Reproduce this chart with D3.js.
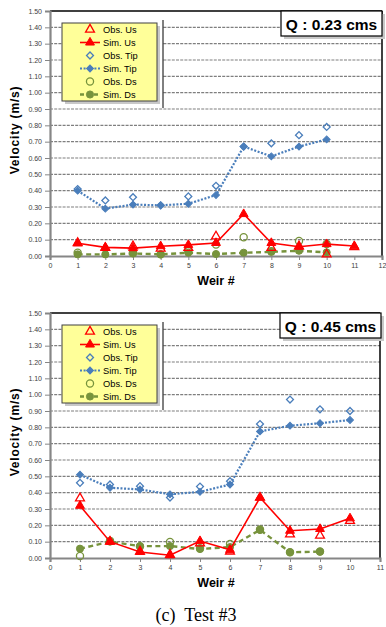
<!DOCTYPE html>
<html>
<head>
<meta charset="utf-8">
<script src="https://cdn.jsdelivr.net/npm/d3@7/dist/d3.min.js"></script>
<style>
  html, body { margin: 0; padding: 0; background: #fff; }
  svg { display: block; }
</style>
</head>
<body>
<svg id="fig" width="386" height="627"></svg>
<script>
// Weir velocity comparison, Test #3 — two discharges
const yTicks = [0.00,0.10,0.20,0.30,0.40,0.50,0.60,0.70,0.80,0.90,1.00,1.10,1.20,1.30,1.40,1.50];

// Q = 0.23 cms
const weirsA  = [1,2,3,4,5,6,7,8,9,10,11];
const obsUsA  = [0.08,0.05,0.06,0.045,0.05,0.12,null,0.05,0.06,0.01,0.055];
const simUsA  = [0.078,0.053,0.048,0.06,0.068,0.08,0.257,0.08,0.057,0.073,0.061];
const obsTipA = [0.41,0.34,0.36,0.31,0.365,0.43,0.67,0.69,0.74,0.79,null];
const simTipA = [0.40,0.29,0.315,0.31,0.32,0.373,0.67,0.61,0.67,0.714,null];
const obsDsA  = [0.02,null,0.02,0.01,0.03,0.07,0.115,0.03,0.092,0.073,null];
const simDsA  = [0.01,0.01,0.015,0.01,0.02,0.012,0.02,0.025,0.032,0.022,null];

// Q = 0.45 cms
const weirsB  = [1,2,3,4,5,6,7,8,9,10];
const obsUsB  = [0.366,0.10,0.04,0.02,0.09,0.04,0.37,0.145,0.137,0.228];
const simUsB  = [0.32,0.10,0.037,0.017,0.104,0.05,0.37,0.167,0.178,0.243];
const obsTipB = [0.46,0.45,0.44,0.37,0.437,0.47,0.82,0.97,0.91,0.90];
const simTipB = [0.51,0.43,0.42,0.39,0.405,0.45,0.775,0.81,0.825,0.845];
const obsDsB  = [0.012,0.105,0.07,0.098,0.06,0.086,0.175,0.035,0.04,null];
const simDsB  = [0.057,0.10,0.073,0.073,0.055,0.067,0.172,0.035,0.039,null];

const legendLabels = ["Obs. Us","Sim. Us","Obs. Tip","Sim. Tip","Obs. Ds","Sim. Ds"];

const RED = "#ff0000", BLUE = "#4a7ebb", OLIVE = "#77933c";
const svg = d3.select("#fig");
const SANS = "'Liberation Sans', Arial, sans-serif";

// markers: triangle, square turned 45° (diamond), circle
const tri = { d: d3.symbol().type(d3.symbolTriangle).size(34)(), rot: 0 };
const dia = { d: d3.symbol().type(d3.symbolSquare).size(24)(), rot: 45 };
const cir = { d: d3.symbol().type(d3.symbolCircle).size(40)(), rot: 0 };

function panel(cfg) {
  const g = svg.append("g").attr("transform", `translate(0,${cfg.dy})`);
  const L = 50, T = 11, B = 256, R = cfg.right;
  const x = d3.scaleLinear().domain([0, cfg.xMax]).range([L, R]);
  const y = d3.scaleLinear().domain([0, 1.5]).range([B, T]);

  // horizontal dashed gridlines
  g.append("g").selectAll("line").data(yTicks.filter(v => v > 0 && v < 1.5)).join("line")
    .attr("x1", L).attr("x2", R).attr("y1", d => y(d)).attr("y2", d => y(d))
    .attr("stroke", "#7f7f7f").attr("stroke-width", 1.1).attr("stroke-dasharray", "3,1.2");

  // black frame on top and right
  g.append("line").attr("x1", L).attr("x2", R).attr("y1", T).attr("y2", T)
    .attr("stroke", "#000").attr("stroke-width", 1.5);
  g.append("line").attr("x1", R).attr("x2", R).attr("y1", T).attr("y2", B)
    .attr("stroke", "#000").attr("stroke-width", 1.5);

  // axes
  const ya = d3.axisLeft(y).tickValues(yTicks).tickFormat(d3.format(".2f")).tickSize(5).tickPadding(3);
  const yg = g.append("g").attr("transform", `translate(${L},0)`).call(ya);
  const xa = d3.axisBottom(x).ticks(cfg.xMax).tickFormat(d3.format("d")).tickSize(4).tickPadding(3);
  const xg = g.append("g").attr("transform", `translate(0,${B})`).call(xa);
  [yg, xg].forEach(a => {
    a.select(".domain").attr("stroke", "#868686").attr("stroke-width", 2.2);
    a.selectAll(".tick line").attr("stroke", "#868686").attr("stroke-width", 1);
    a.selectAll("text").attr("font-family", SANS).attr("font-size", 7).attr("fill", "#404040");
  });

  // axis titles
  g.append("text").attr("x", 216).attr("y", 285).attr("text-anchor", "middle")
    .attr("font-family", SANS).attr("font-weight", "bold").attr("font-size", 12.5)
    .text("Weir #");
  g.append("text").attr("transform", "translate(19,130) rotate(-90)").attr("text-anchor", "middle")
    .attr("font-family", SANS).attr("font-weight", "bold").attr("font-size", 12)
    .attr("letter-spacing", 0.8).text("Velocity (m/s)");

  const pts = (vals) => cfg.weirs.map((w, i) => ({ w, v: vals[i] })).filter(p => p.v != null);
  const line = d3.line().x(p => x(p.w)).y(p => y(p.v));

  function series(vals, color, sym, filled, stroke) {
    const p = pts(vals);
    if (stroke) {
      g.append("path").datum(p).attr("d", line).attr("fill", "none")
        .attr("stroke", color).attr("stroke-width", stroke.w)
        .attr("stroke-dasharray", stroke.dash || null);
    }
    g.append("g").selectAll("path").data(p).join("path")
      .attr("d", sym.d)
      .attr("transform", d => `translate(${x(d.w)},${y(d.v)}) rotate(${sym.rot})`)
      .attr("fill", filled ? color : "none")
      .attr("stroke", color).attr("stroke-width", filled ? 1 : 1.3);
  }

  series(cfg.simDs, OLIVE, cir, true, { w: 2.4, dash: "5,3.5" });
  series(cfg.obsDs, OLIVE, cir, false);
  series(cfg.simTip, BLUE, dia, true, { w: 2.2, dash: "2,1.6" });
  series(cfg.obsTip, BLUE, dia, false);
  series(cfg.simUs, RED, tri, true, { w: 1.6 });
  series(cfg.obsUs, RED, tri, false);

  // legend
  g.append("rect").attr("x", 62).attr("y", 20).attr("width", 101).attr("height", 88).attr("fill", "#fff");
  g.append("line").attr("x1", 163).attr("x2", 163).attr("y1", 20).attr("y2", 108)
    .attr("stroke", "#000").attr("stroke-width", 1);
  g.append("rect").attr("x", 65).attr("y", 26).attr("width", 95).attr("height", 78)
    .attr("fill", "#c8c8c8");
  g.append("rect").attr("x", 62).attr("y", 23).attr("width", 95).attr("height", 78)
    .attr("fill", "#ffff99").attr("stroke", "#404040").attr("stroke-width", 1);

  const rows = [
    { c: RED, s: tri, f: false },
    { c: RED, s: tri, f: true, w: 1.6 },
    { c: BLUE, s: dia, f: false },
    { c: BLUE, s: dia, f: true, w: 2.2, dash: "2,1.6" },
    { c: OLIVE, s: cir, f: false },
    { c: OLIVE, s: cir, f: true, w: 2.4, dash: "4,3" }
  ];
  rows.forEach((r, i) => {
    const cy = 29.5 + i * 13;
    if (r.w) {
      g.append("line").attr("x1", 80).attr("x2", 100).attr("y1", cy).attr("y2", cy)
        .attr("stroke", r.c).attr("stroke-width", r.w).attr("stroke-dasharray", r.dash || null);
    }
    g.append("path").attr("d", r.s.d).attr("transform", `translate(90,${cy}) rotate(${r.s.rot})`)
      .attr("fill", r.f ? r.c : "none").attr("stroke", r.c).attr("stroke-width", r.f ? 1 : 1.3);
    g.append("text").attr("x", 103).attr("y", cy + 3.3)
      .attr("font-family", SANS).attr("font-size", 9.3).attr("fill", "#000")
      .text(legendLabels[i]);
  });

  // discharge label
  g.append("rect").attr("x", cfg.qx + 3).attr("y", 14).attr("width", 101).attr("height", 25).attr("fill", "#c8c8c8");
  g.append("rect").attr("x", cfg.qx).attr("y", 11).attr("width", 101).attr("height", 25)
    .attr("fill", "#fff").attr("stroke", "#000").attr("stroke-width", 1.2);
  g.append("text").attr("x", cfg.qx + 50.5).attr("y", 29.5).attr("text-anchor", "middle")
    .attr("font-family", SANS).attr("font-weight", "bold").attr("font-size", 15.5)
    .text(cfg.q);
}

panel({ dy: 0, xMax: 12, right: 382, qx: 281, q: "Q : 0.23 cms", weirs: weirsA,
  obsUs: obsUsA, simUs: simUsA, obsTip: obsTipA, simTip: simTipA, obsDs: obsDsA, simDs: simDsA });
panel({ dy: 302, xMax: 11, right: 380, qx: 280, q: "Q : 0.45 cms", weirs: weirsB,
  obsUs: obsUsB, simUs: simUsB, obsTip: obsTipB, simTip: simTipB, obsDs: obsDsB, simDs: simDsB });

svg.append("text").attr("x", 196).attr("y", 621).attr("text-anchor", "middle")
  .attr("font-family", "'Liberation Serif', 'DejaVu Serif', serif").attr("font-size", 18)
  .attr("xml:space", "preserve").text("(c)  Test #3");
</script>
</body>
</html>
